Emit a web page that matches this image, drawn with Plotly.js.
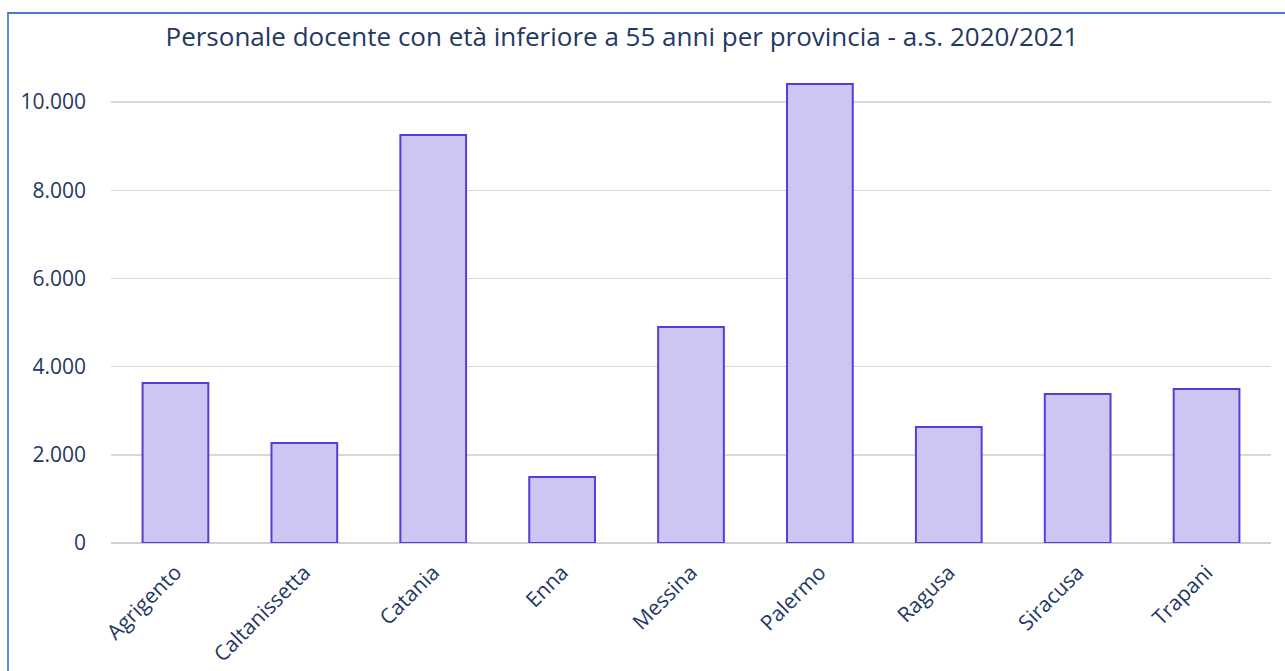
<!DOCTYPE html>
<html>
<head>
<meta charset="utf-8">
<script src="https://cdn.plot.ly/plotly-3.0.1.min.js"></script>
<style>
  html, body { margin: 0; padding: 0; background: #fff; }
  #wrap { position: relative; width: 1285px; height: 671px; overflow: hidden; }
  #chart { position: absolute; left: 0; top: 0; width: 1285px; height: 671px; }
  #frame { position: absolute; left: 7px; top: 12px; width: 1300px; height: 700px;
           border-left: 2px solid #5b8ad6; border-top: 2px solid #4a78d0; pointer-events: none; }
</style>
</head>
<body>
<div id="wrap">
  <div id="chart"></div>
  <div id="frame"></div>
</div>
<script>
const categories = ["Agrigento", "Caltanissetta", "Catania", "Enna", "Messina", "Palermo", "Ragusa", "Siracusa", "Trapani"];
const values = [3628, 2268, 9252, 1497, 4898, 10408, 2630, 3379, 3492];
const yTickValues = [0, 2000, 4000, 6000, 8000, 10000];
const chartTitle = "Personale docente con età inferiore a 55 anni per provincia - a.s. 2020/2021";

const navy = "#1f3864";
const font = "Open Sans, Lato, sans-serif";

const trace = {
  type: "bar",
  x: categories,
  y: values,
  marker: { color: "#cec6f2", line: { color: "#5b3bd8", width: 2 } },
  hoverinfo: "x+y"
};

const layout = {
  width: 1285,
  height: 671,
  margin: { l: 111, r: 14, t: 58, b: 128 },
  paper_bgcolor: "#ffffff",
  plot_bgcolor: "#ffffff",
  separators: ",.",
  showlegend: false,
  bargap: 0.49,
  title: {
    text: chartTitle,
    font: { family: font, size: 26, color: navy },
    x: 0.484, xanchor: "center",
    y: 0.945, yanchor: "middle"
  },
  xaxis: {
    type: "category",
    tickangle: -45,
    tickfont: { family: font, size: 21, color: navy },
    showgrid: false,
    showline: false,
    ticks: "",
    ticklabelstandoff: 12
  },
  yaxis: {
    range: [0, 11000],
    tickvals: yTickValues,
    tickformat: ",d",
    tickfont: { family: font, size: 21, color: navy },
    showgrid: true,
    gridcolor: "#d9d9d9",
    gridwidth: 1.5,
    zeroline: true,
    zerolinecolor: "#d0d0d0",
    zerolinewidth: 2,
    showline: false,
    ticks: "",
    ticklabelstandoff: 24
  }
};

Plotly.newPlot("chart", [trace], layout, { displayModeBar: false, staticPlot: true });
</script>
</body>
</html>
